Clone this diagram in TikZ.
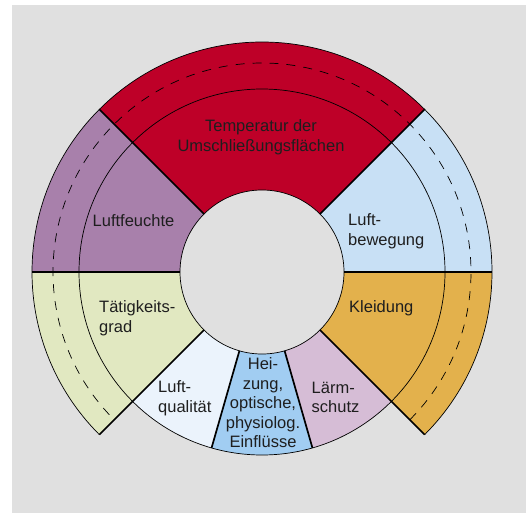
\documentclass[tikz,border=0pt]{standalone}
\usepackage{fontspec}
\setmainfont{Liberation Sans}
\definecolor{bg}{HTML}{E0E0E0}
\definecolor{cTemp}{HTML}{BE0028}
\definecolor{cBew}{HTML}{C8E0F5}
\definecolor{cFeu}{HTML}{A880AB}
\definecolor{cTaet}{HTML}{E1E8C1}
\definecolor{cKlei}{HTML}{E3B14C}
\definecolor{cQual}{HTML}{EBF3FC}
\definecolor{cHeiz}{HTML}{A1CDF2}
\definecolor{cLaerm}{HTML}{D6BDD6}
\definecolor{txt}{HTML}{1E1E1E}
\newcommand{\ringsector}[5]{%
  \fill[#1] (#2:#4) -- (#2:#5) arc[start angle=#2, end angle=#3, radius=#5] -- (#3:#4) arc[start angle=#3, end angle=#2, radius=#4] -- cycle;}
\tikzset{
  thinline/.style={line width=0.7pt, black},
  thickline/.style={line width=1.7pt, black},
  dashline/.style={line width=0.7pt, black, dash pattern=on 9pt off 8pt},
  lbl/.style={inner sep=0pt, text=txt, font=\fontsize{16.5}{19.5}\selectfont},
}
\begin{document}
\begin{tikzpicture}[x=1pt,y=1pt]
\useasboundingbox (0,0) rectangle (526,-513);
\fill[bg] (12,-5) rectangle (526,-513);
\begin{scope}[shift={(262,-272)}]
\def\ri{82}
\def\rm{183}
\def\rd{209}
\def\ro{230}
% sectors
\ringsector{cTemp}{45}{135}{\ri}{\ro}
\ringsector{cBew}{0}{45}{\ri}{\ro}
\ringsector{cFeu}{135}{180}{\ri}{\ro}
\ringsector{cTaet}{180}{225}{\ri}{\ro}
\ringsector{cKlei}{-45}{0}{\ri}{\ro}
\ringsector{cQual}{225}{254}{\ri}{\rm}
\ringsector{cHeiz}{254}{286}{\ri}{\rm}
\ringsector{cLaerm}{286}{315}{\ri}{\rm}
% thin circles and arcs
\draw[thinline] (0,0) circle[radius=\ri];
\draw[thinline] (0,0) circle[radius=\rm];
\draw[thinline] (-45:\ro) arc[start angle=-45, end angle=225, radius=\ro];
\draw[dashline] (-45:\rd) arc[start angle=-45, end angle=225, radius=\rd];
% thick radial lines
\foreach \a in {0,45,135,180,225,315}
  \draw[thickline] (\a:\ri) -- (\a:\ro);
\foreach \a in {254,286}
  \draw[thickline] (\a:\ri) -- (\a:\rm);
\end{scope}
% labels
\node[lbl, align=center] (temp) at (261,-137) {Temperatur der\\Umschließungsflächen};
\node[lbl, anchor=west] (feu) at (92.5,-221) {Luftfeuchte};
\node[lbl, anchor=west, align=left] (bew) at (348,-231) {Luft-\\bewegung};
\node[lbl, anchor=west, align=left] (taet) at (99,-318) {Tätigkeits-\\grad};
\node[lbl, anchor=west] (klei) at (349,-308) {Kleidung};
\node[lbl, anchor=west, align=left] (qual) at (158,-398) {Luft-\\qualität};
\node[lbl, align=center] (heiz) at (263,-403) {Hei-\\zung,\\optische,\\physiolog.\\Einflüsse};
\node[lbl, anchor=west, align=left] (laerm) at (311.5,-397.5) {Lärm-\\schutz};
\end{tikzpicture}
\end{document}
